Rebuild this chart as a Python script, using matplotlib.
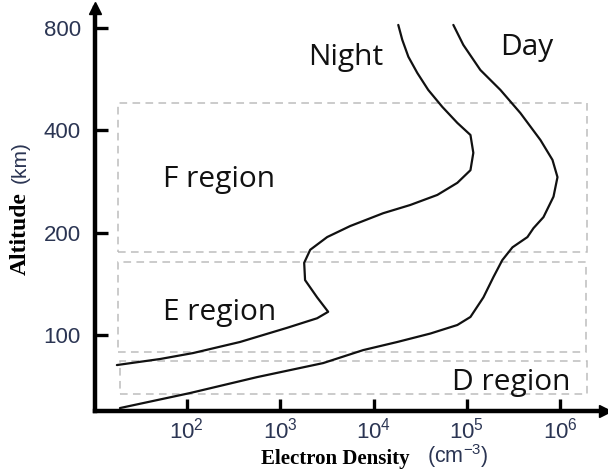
import numpy as np
import matplotlib.pyplot as plt
from matplotlib.patches import Rectangle

# Electron density (cm^-3) vs altitude (km)
night_density = [1.84e4, 2.03e4, 2.36e4, 2.94e4, 3.85e4, 5.45e4, 7.89e4, 1.09e5, 1.17e5,
                 1.09e5, 7.89e4, 4.82e4, 2.47e4, 1.27e4, 5.62e3, 3.19e3, 2.10e3, 1.81e3,
                 1.85e3, 2.49e3, 3.27e3, 2.49e3, 1.19e3, 373, 117, 51.8, 17.9]
night_altitude = [815, 737, 657, 589, 525, 468, 420, 387, 343,
                  305, 280, 258, 241, 228, 209, 194, 178, 163,
                  145, 129, 117, 112, 105, 95.4, 88.5, 85, 81.6]

day_density = [7.15e4, 9.14e4, 1.39e5, 2.28e5, 3.73e5, 6.12e5, 8.23e5, 9.31e5, 8.44e5,
               6.59e5, 5.15e5, 4.44e5, 3.07e5, 2.39e5, 1.92e5, 1.50e5, 1.09e5, 7.89e4,
               4.06e4, 1.80e4, 7.76e3, 2.89e3, 566, 108, 19.3]
day_altitude = [815, 712, 601, 525, 449, 374, 327, 291, 255,
                222, 206, 194, 181, 166, 148, 129, 113, 107,
                101, 95.4, 90.3, 82.7, 75.2, 67.5, 61]

# region boxes: (x0, x1, y0, y1) in data units
region_names = ["F region", "E region", "D region"]
region_boxes = [(18.4, 1.95e6, 175.5, 481), (18.4, 1.87e6, 89, 164), (19.3, 1.95e6, 67, 84)]
region_label_pos = [(55.7, 272), (55.7, 110.7), (6.97e4, 68.9)]

x_ticks = [1e2, 1e3, 1e4, 1e5, 1e6]
x_tick_labels = ["$10^{2}$", "$10^{3}$", "$10^{4}$", "$10^{5}$", "$10^{6}$"]
y_ticks = [100, 200, 400, 800]

plt.rcParams["mathtext.default"] = "regular"
label_color = "#2b3553"
text_font = "Open Sans"

fig = plt.figure(figsize=(6.08, 4.71), dpi=100)
ax = fig.add_axes([0.156, 0.1274, 0.839, 0.856])

ax.set_xscale("log")
ax.set_yscale("log")
ax.set_xlim(10.4, 3.0e6)
ax.set_ylim(59.8, 915)

ax.plot(night_density, night_altitude, color="#111111", lw=1.6,
        solid_joinstyle="round", solid_capstyle="round")
ax.plot(day_density, day_altitude, color="#111111", lw=1.6,
        solid_joinstyle="round", solid_capstyle="round")

for (x0, x1, y0, y1) in region_boxes:
    ax.add_patch(Rectangle((x0, y0), x1 - x0, y1 - y0, fill=False,
                           edgecolor="#bdbdbd", lw=1.1, linestyle=(0, (5, 3.5))))

for name, (x, y) in zip(region_names, region_label_pos):
    ax.text(x, y, name, fontsize=21.5, family=text_font, color="#111111",
            ha="left", va="baseline")

ax.text(2.0e3, 622, "Night", fontsize=21.5, family=text_font, color="#111111",
        ha="left", va="baseline")
ax.text(2.28e5, 665, "Day", fontsize=21.5, family=text_font, color="#111111",
        ha="left", va="baseline")

# axes: only left and bottom, thick, with arrow heads
for side in ["top", "right"]:
    ax.spines[side].set_visible(False)
for side in ["left", "bottom"]:
    ax.spines[side].set_linewidth(3.2)
    ax.spines[side].set_color("black")
    ax.spines[side].set_capstyle("projecting")
ax.plot([0], [1], marker="^", color="black", markersize=8,
        transform=ax.transAxes, clip_on=False)
ax.plot([1], [0], marker=">", color="black", markersize=8,
        transform=ax.transAxes, clip_on=False)

ax.minorticks_off()
ax.set_xticks(x_ticks)
ax.set_xticklabels(x_tick_labels)
ax.set_yticks(y_ticks)
ax.set_yticklabels([str(v) for v in y_ticks])
ax.tick_params(direction="in", length=9, width=2.4, color="black",
               labelsize=16, labelcolor=label_color)
ax.tick_params(axis="x", pad=5)
ax.tick_params(axis="y", pad=10)
for lab in ax.get_xticklabels() + ax.get_yticklabels():
    lab.set_family("Liberation Sans")

# axis titles made of two pieces each
fig.text(0.033, 0.505, "Altitude", rotation=90, ha="center", va="center",
         family="Liberation Serif", weight="bold", fontsize=17)
fig.text(0.033, 0.656, "(km)", rotation=90, ha="center", va="center",
         family="Liberation Sans", fontsize=15, color=label_color)
fig.text(0.551, 0.026, "Electron Density", ha="center", va="center",
         family="Liberation Serif", weight="bold", fontsize=15)
fig.text(0.702, 0.031, "(cm$^{-3}$)", ha="left", va="center",
         family="Liberation Sans", fontsize=15.5, color=label_color)

fig.savefig("out.png", dpi=100)
